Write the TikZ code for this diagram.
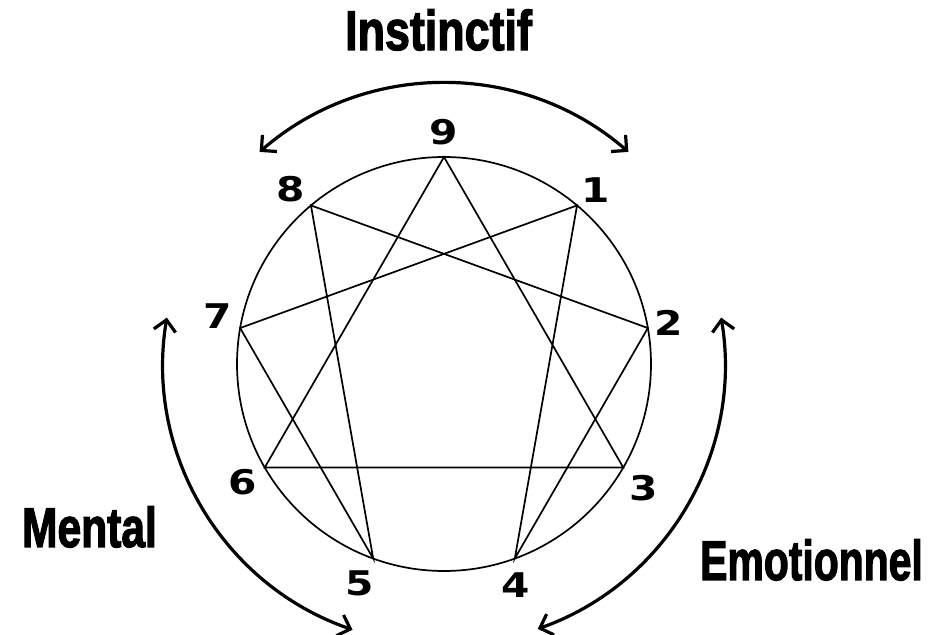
\documentclass[tikz,border=0pt]{standalone}
\usepackage{fontspec}
\usepackage{graphicx}
\usetikzlibrary{arrows.meta}
\newfontfamily\chiffres{DejaVu Sans}
\newfontfamily\titres{Liberation Sans Bold}[RawFeature={embolden=2.5}]

\begin{document}
\begin{tikzpicture}[x=0.5pt,y=0.5pt]

% Styles
\tikzset{
  trait/.style={line width=0.85pt},
  fleche/.style={line width=1.6pt, {Straight Barb[length=5.5pt,width=11pt]}-{Straight Barb[length=5.5pt,width=11pt]}},
  chiffre/.style={font=\chiffres\bfseries\fontsize{17}{19}\selectfont, inner sep=0pt},
  centre/.style={font=\titres\fontsize{28}{30}\selectfont, anchor=base, inner sep=0pt}
}

% Cadre
\useasboundingbox (-444,-271) rectangle (507,364);

% Rayons : cercle et fleches
\def\r{207}
\def\R{281}

% Cercle
\draw[trait] (0,0) circle[radius=\r];

% Points de l'enneagramme
\coordinate (p9) at (90:\r);
\coordinate (p1) at (50:\r);
\coordinate (p2) at (10:\r);
\coordinate (p3) at (-30:\r);
\coordinate (p4) at (-70:\r);
\coordinate (p5) at (-110:\r);
\coordinate (p6) at (-150:\r);
\coordinate (p7) at (170:\r);
\coordinate (p8) at (130:\r);

% Triangle 3-6-9
\draw[trait] (p3) -- (p6) -- (p9) -- cycle;

% Hexade 1-4-2-8-5-7
\draw[trait] (p1) -- (p4) -- (p2) -- (p8) -- (p5) -- (p7) -- cycle;

% Numeros
\node[chiffre] (l9) at (90:232) {\scalebox{1.2}[1]{9}};
\node[chiffre] (l1) at (49:231) {\scalebox{1.2}[1]{1}};
\node[chiffre] (l2) at (10.4:228) {\scalebox{1.2}[1]{2}};
\node[chiffre] (l3) at (-32:235) {\scalebox{1.2}[1]{3}};
\node[chiffre] (l4) at (-72:232) {\scalebox{1.2}[1]{4}};
\node[chiffre] (l5) at (-111:235) {\scalebox{1.2}[1]{5}};
\node[chiffre] (l6) at (-149.6:233) {\scalebox{1.2}[1]{6}};
\node[chiffre] (l7) at (168:231) {\scalebox{1.2}[1]{7}};
\node[chiffre] (l8) at (131.3:233) {\scalebox{1.2}[1]{8}};

% Fleches des centres
\draw[fleche] (131:\R) arc[start angle=131, end angle=49, radius=\R];
\draw[fleche] (170.5:\R) arc[start angle=170.5, end angle=251, radius=\R];
\draw[fleche] (9.5:\R) arc[start angle=9.5, end angle=-70.5, radius=\R];

% Centres
\node[centre] (instinctif) at (-5.5,314) {\scalebox{0.8}[1]{Instinctif}};
\node[centre] (mental) at (-354.5,-183) {\scalebox{0.76}[1]{Mental}};
\node[centre] (emotionnel) at (367.5,-216) {\scalebox{0.73}[1]{Emotionnel}};

\end{tikzpicture}
\end{document}
